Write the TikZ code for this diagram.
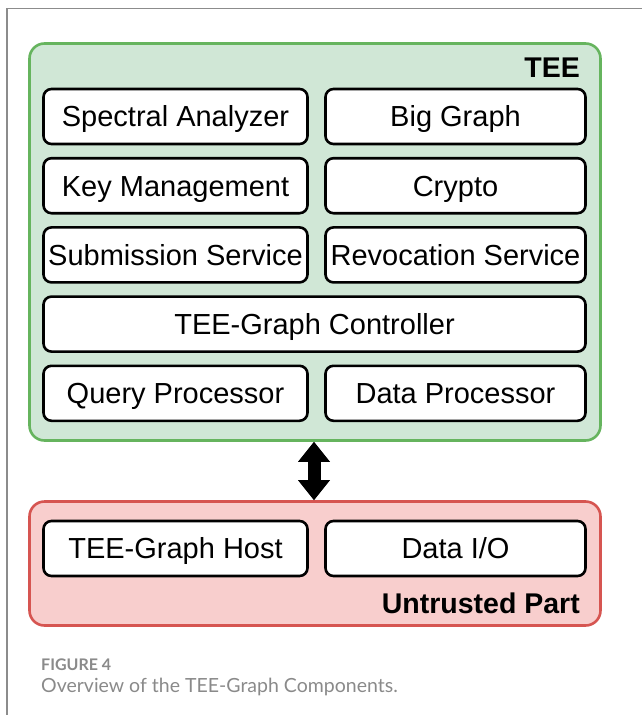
\documentclass[tikz,border=0pt]{standalone}
\usepackage{fontspec}
\setmainfont{Liberation Sans}
\newfontfamily\capfont{Lato}
\usetikzlibrary{arrows.meta}
\definecolor{teefill}{HTML}{D0E7D6}
\definecolor{teedraw}{HTML}{66B45E}
\definecolor{untfill}{HTML}{F8CECD}
\definecolor{untdraw}{HTML}{D65551}
\definecolor{capgray}{HTML}{8A8A8A}
\definecolor{framegray}{HTML}{8C8C8C}
\tikzset{
  comp/.style={draw=black, line width=2.6pt, fill=white, rounded corners=8pt,
    minimum height=55pt, inner sep=0pt, text height=20.8pt, text depth=0pt,
    font=\fontsize{29}{34}\selectfont},
  leftcomp/.style={comp, minimum width=264pt},
  rightcomp/.style={comp, minimum width=260pt},
  widecomp/.style={comp, minimum width=542pt},
  zone/.style={line width=2.6pt, rounded corners=15pt, inner sep=0pt},
  zonelabel/.style={font=\fontsize{28.5}{34}\selectfont\bfseries, inner sep=0pt},
  link/.style={line width=13pt, {Triangle[width=32pt,length=20pt,line width=0pt]}-{Triangle[width=32pt,length=20pt,line width=0pt]}}
}
\begin{document}
\begin{tikzpicture}[x=1pt,y=-1pt]
\useasboundingbox (0,0) rectangle (642,715);
% page frame
\draw[framegray, line width=1.5pt] (7,715) -- (7,8.5) -- (642,8.5);
% zones
\node[zone, draw=teedraw, fill=teefill, minimum width=571pt, minimum height=397pt] (tee) at (315,242) {};
\node[zone, draw=untdraw, fill=untfill, minimum width=571pt, minimum height=124pt] (unt) at (315,563.5) {};
\node[zonelabel, anchor=base east] (teelabel) at (580,77) {TEE};
\node[zonelabel, anchor=base east] (untlabel) at (580,613) {Untrusted Part};
% TEE components
\node[leftcomp]  (spec) at (175.5,116.5) {Spectral Analyzer};
\node[rightcomp] (big)  at (455.5,116.5) {Big Graph};
\node[leftcomp]  (key)  at (175.5,185.7) {Key Management};
\node[rightcomp] (cry)  at (455.5,185.7) {Crypto};
\node[leftcomp]  (sub)  at (175.5,254.9) {Submission Service};
\node[rightcomp] (rev)  at (455.5,254.9) {Revocation Service};
\node[widecomp]  (ctl)  at (314.5,324.1) {TEE-Graph Controller};
\node[leftcomp]  (qp)   at (175.5,393.3) {Query Processor};
\node[rightcomp] (dp)   at (455.5,393.3) {Data Processor};
% untrusted components
\node[leftcomp]  (host) at (175.5,548.5) {TEE-Graph Host};
\node[rightcomp] (io)   at (455.5,548.5) {Data I/O};
% link
\draw[link] ([xshift=-1pt]tee.south) -- ([xshift=-1pt]unt.north);
% caption
\node[anchor=base west, inner sep=0pt, text=capgray, font=\capfont\bfseries\fontsize{16}{19}\selectfont] (fig) at (41,670) {FIGURE 4};
\node[anchor=base west, inner sep=0pt, text=capgray, font=\capfont\fontsize{19.5}{24}\selectfont] (cap) at (41,692) {Overview of the TEE-Graph Components.};
\end{tikzpicture}
\end{document}
